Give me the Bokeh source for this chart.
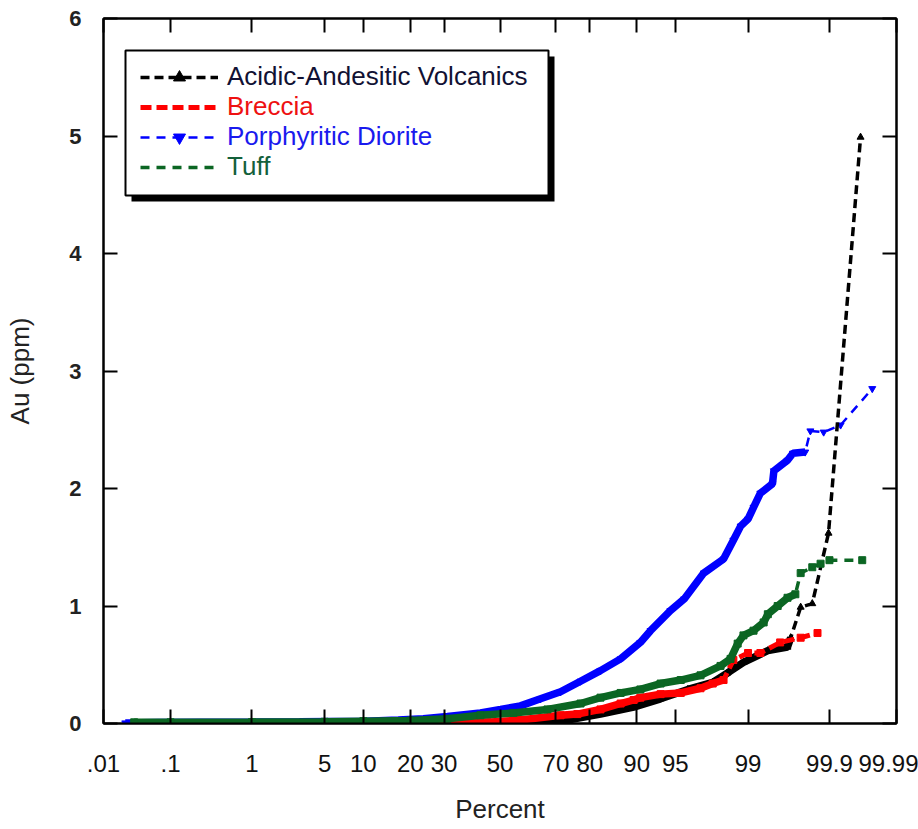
from math import sqrt, log
from bokeh.plotting import figure
from bokeh.models import (Range1d, FixedTicker, LinearAxis, Legend, LegendItem,
                          BoxAnnotation, ColumnDataSource)
from bokeh.embed import file_html
from bokeh.resources import INLINE

# ---------------- data (percent, Au ppm) ----------------
tick_pct = [0.01, 0.1, 1, 5, 10, 20, 30, 50, 70, 80, 90, 95, 99, 99.9, 99.99]
tick_lbl = [".01", ".1", "1", "5", "10", "20", "30", "50", "70", "80", "90", "95", "99", "99.9", "99.99"]
y_ticks = [0, 1, 2, 3, 4, 5, 6]

series_names = ["Acidic-Andesitic Volcanics", "Breccia", "Porphyritic Diorite", "Tuff"]

volc_pct = [0.03, 0.1, 1, 10, 30, 50, 62.3, 73.7, 82.7, 89.5, 93.4, 96.1, 97.7, 98.36,
            98.88, 99.4, 99.65, 99.68, 99.76, 99.83, 99.897, 99.964]
volc_au = [0.0, 0.0, 0.0, 0.003, 0.005, 0.008, 0.01, 0.03, 0.08, 0.14, 0.21, 0.29, 0.35, 0.43,
           0.52, 0.62, 0.65, 0.73, 0.99, 1.02, 1.62, 4.99]
volc_dense = 18

brec_pct = [0.14, 1, 10, 30, 45.3, 57.6, 71.5, 76.6, 82.7, 87.1, 89.5, 90.6, 93.4, 95.5,
            97.0, 97.7, 98.2, 98.57, 99.0, 99.27, 99.57, 99.76, 99.855]
brec_au = [0.0, 0.0, 0.005, 0.008, 0.01, 0.03, 0.07, 0.08, 0.12, 0.17, 0.2, 0.22, 0.25, 0.26,
           0.3, 0.34, 0.37, 0.54, 0.6, 0.6, 0.69, 0.73, 0.77]
brec_dense = 17

dior_pct = [0.022, 0.037, 0.066, 0.25, 0.38, 1.0, 3.0, 10.4, 17, 23.6, 31.1, 42.7, 50.2, 57.6,
            64.8, 71.5, 77.5, 82.7, 87.1, 90.6, 92.1, 94.5, 95.8, 97.2, 98.2, 98.57, 98.8,
            99.0, 99.13, 99.27, 99.47, 99.49, 99.65, 99.7, 99.79, 99.82, 99.88, 99.93, 99.976]
dior_au = [0.005, 0.006, 0.008, 0.01, 0.01, 0.012, 0.015, 0.02, 0.03, 0.04, 0.06, 0.09, 0.12, 0.15,
           0.21, 0.27, 0.36, 0.45, 0.55, 0.69, 0.79, 0.96, 1.06, 1.28, 1.4, 1.56, 1.68,
           1.74, 1.84, 1.96, 2.04, 2.15, 2.24, 2.3, 2.31, 2.49, 2.48, 2.54, 2.85]
dior_dense = 35

tuff_pct = [0.03, 0.1, 1, 5, 10, 20, 31.1, 42.7, 55.0, 67.2, 77.5, 82.7, 87.1, 90.6, 93.4, 95.5,
            97.0, 98.07, 98.47, 98.71, 98.88, 99.13, 99.33, 99.4, 99.54, 99.65, 99.72,
            99.76, 99.83, 99.868, 99.9, 99.966]
tuff_au = [0.01, 0.01, 0.012, 0.015, 0.02, 0.025, 0.04, 0.07, 0.09, 0.12, 0.17, 0.22, 0.26, 0.29,
           0.34, 0.37, 0.41, 0.49, 0.55, 0.68, 0.75, 0.79, 0.86, 0.93, 1.0, 1.07, 1.1,
           1.28, 1.33, 1.36, 1.39, 1.39]
tuff_dense = 27


# ---------------- normal probability transform ----------------
def norm_ppf(p):
    a = [-3.969683028665376e+01, 2.209460984245205e+02, -2.759285104469687e+02,
         1.383577518672690e+02, -3.066479806614716e+01, 2.506628277459239e+00]
    b = [-5.447609879822406e+01, 1.615858368580409e+02, -1.556989798598866e+02,
         6.680131188771972e+01, -1.328068155288572e+01]
    c = [-7.784894002430293e-03, -3.223964580411365e-01, -2.400758277161838e+00,
         -2.549732539343734e+00, 4.374664141464968e+00, 2.938163982698783e+00]
    d = [7.784695709041462e-03, 3.224671290700398e-01, 2.445134137142996e+00,
         3.754408661907416e+00]
    plow = 0.02425
    if p < plow:
        q = sqrt(-2 * log(p))
        return (((((c[0]*q+c[1])*q+c[2])*q+c[3])*q+c[4])*q+c[5]) / ((((d[0]*q+d[1])*q+d[2])*q+d[3])*q+1)
    if p <= 1 - plow:
        q = p - 0.5
        r = q * q
        return (((((a[0]*r+a[1])*r+a[2])*r+a[3])*r+a[4])*r+a[5])*q / (((((b[0]*r+b[1])*r+b[2])*r+b[3])*r+b[4])*r+1)
    q = sqrt(-2 * log(1 - p))
    return -(((((c[0]*q+c[1])*q+c[2])*q+c[3])*q+c[4])*q+c[5]) / ((((d[0]*q+d[1])*q+d[2])*q+d[3])*q+1)


def z_of(pcts):
    return [norm_ppf(v / 100.0) for v in pcts]


tick_z = z_of(tick_pct)

p = figure(width=918, height=829, output_backend="svg", toolbar_location=None,
           x_range=Range1d(tick_z[0] - 1e-9, tick_z[-1] + 1e-9), y_range=Range1d(0, 6),
           min_border_left=103, min_border_right=22, min_border_top=18, min_border_bottom=106,
           title=None)
p.xgrid.visible = False
p.ygrid.visible = False
p.outline_line_color = "black"
p.outline_line_width = 2
p.background_fill_color = "white"
p.border_fill_color = "white"

FONT = "Liberation Sans"

xax = p.xaxis[0]
xax.ticker = FixedTicker(ticks=tick_z)
xax.major_label_overrides = {z: l for z, l in zip(tick_z, tick_lbl)}
yax = p.yaxis[0]
yax.ticker = FixedTicker(ticks=y_ticks)

for ax in (xax, yax):
    ax.major_tick_in = 14
    ax.major_tick_out = 0
    ax.minor_tick_line_color = None
    ax.axis_line_width = 2
    ax.major_tick_line_width = 2
    ax.axis_label_text_font = FONT
    ax.axis_label_text_font_style = "normal"
    ax.axis_label_text_font_size = "26px"
    ax.axis_label_text_color = "#222222"

xax.axis_label = "Percent"
xax.major_label_text_font = FONT
xax.major_label_text_font_size = "24px"
xax.major_label_text_color = "#111111"
xax.major_label_standoff = 31
xax.axis_label_standoff = 19

yax.axis_label = "Au (ppm)"
yax.major_label_text_font = FONT
yax.major_label_text_font_style = "bold"
yax.major_label_text_font_size = "22px"
yax.major_label_text_color = "#222222"
yax.major_label_standoff = 22
yax.axis_label_standoff = 31

# mirrored axes (ticks only) on top and right
top_ax = LinearAxis(ticker=FixedTicker(ticks=tick_z), major_tick_in=14, major_tick_out=0,
                    minor_tick_line_color=None, major_label_text_font_size="1px",
                    major_label_text_color=None,
                    major_label_standoff=0, axis_line_width=2, major_tick_line_width=2)
right_ax = LinearAxis(ticker=FixedTicker(ticks=y_ticks), major_tick_in=14, major_tick_out=0,
                      minor_tick_line_color=None, major_label_text_font_size="1px",
                      major_label_text_color=None,
                      major_label_standoff=0, axis_line_width=2, major_tick_line_width=2)
p.add_layout(top_ax, "above")
p.add_layout(right_ax, "right")

# ---------------- series ----------------
styles = {
    "Porphyritic Diorite": dict(pct=dior_pct, au=dior_au, n=dior_dense, color="#0000ff",
                                width=2.5, dash="9 7", marker="inverted_triangle",
                                text="#1a1aee"),
    "Acidic-Andesitic Volcanics": dict(pct=volc_pct, au=volc_au, n=volc_dense, color="#000000",
                                       width=3.5, dash="9 5", marker="triangle", text="#111133"),
    "Breccia": dict(pct=brec_pct, au=brec_au, n=brec_dense, color="#ff0000",
                    width=5, dash="11 5", marker="square", text="#ee1111"),
    "Tuff": dict(pct=tuff_pct, au=tuff_au, n=tuff_dense, color="#0b6623",
                 width=3.5, dash="9 7", marker="square", text="#13603a"),
}

legend_renderers = {}
for name in ["Porphyritic Diorite", "Acidic-Andesitic Volcanics", "Breccia", "Tuff"]:
    s = styles[name]
    z = z_of(s["pct"])
    src = ColumnDataSource(dict(x=z, y=s["au"]))
    dense = ColumnDataSource(dict(x=z[:s["n"]], y=s["au"][:s["n"]]))
    dl = p.line("x", "y", source=src, line_color=s["color"], line_width=s["width"],
                line_dash=s["dash"])
    p.line("x", "y", source=dense, line_color=s["color"], line_width=7.5)
    mk = p.scatter("x", "y", source=src, marker=s["marker"], size=7,
                   fill_color=s["color"], line_color=s["color"])
    if name in ("Acidic-Andesitic Volcanics", "Porphyritic Diorite"):
        legend_renderers[name] = [dl, mk]
    else:
        legend_renderers[name] = [dl]

# ---------------- legend box with drop shadow ----------------
shadow = BoxAnnotation(left=28, right=451, top=667, bottom=522,
                       left_units="screen", right_units="screen",
                       top_units="screen", bottom_units="screen",
                       fill_color="black", fill_alpha=1, line_alpha=0)
box = BoxAnnotation(left=22, right=445, top=673, bottom=528,
                    left_units="screen", right_units="screen",
                    top_units="screen", bottom_units="screen",
                    fill_color="white", fill_alpha=1, line_color="black", line_alpha=1,
                    line_width=2)
p.add_layout(shadow)
p.add_layout(box)

for i, name in enumerate(series_names):
    s = styles[name]
    lg = Legend(items=[LegendItem(label=name, renderers=legend_renderers[name])],
                location=(37, 631 - 30 * i), padding=0, margin=0, spacing=0,
                border_line_alpha=0, background_fill_alpha=0,
                glyph_width=78, glyph_height=30, label_height=30, label_standoff=9,
                label_text_font=FONT, label_text_font_size="26px",
                label_text_color=s["text"])
    p.add_layout(lg)

open("out.html", "w").write(file_html(p, INLINE))
